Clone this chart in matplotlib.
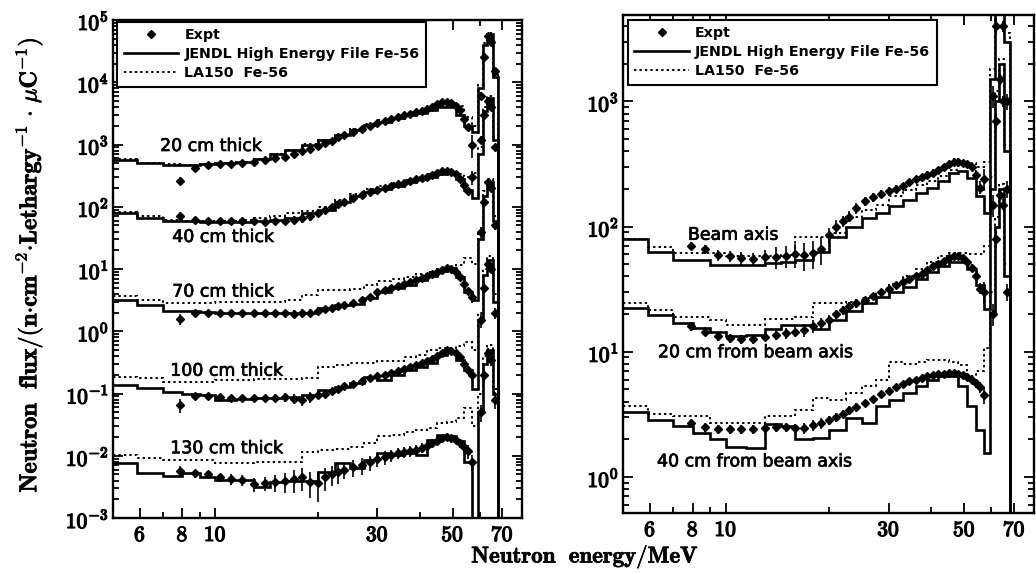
import numpy as np
import matplotlib
matplotlib.use("Agg")
import matplotlib.pyplot as plt
import matplotlib.patheffects as pe
from matplotlib.lines import Line2D
from matplotlib.ticker import LogLocator, FixedLocator, NullFormatter, FixedFormatter, FuncFormatter

plt.rcParams['mathtext.fontset'] = 'cm'
plt.rcParams['font.family'] = ['DejaVu Sans']

# ---------------- data ----------------
# histogram bin edges (MeV) shared by the calculated spectra
E_EDGES = [5, 5.9, 7, 8, 9, 10, 11.5, 13, 14.5, 16, 18, 20, 22.5, 25, 27.5, 30, 33, 36, 39,
           42, 45, 48, 51, 54, 57, 59.5, 61.5, 63, 65.5, 68, 80]

# experimental energies (MeV)
EXP_E = [7.9, 8.7, 9.5, 10.3, 11.1, 12.0, 13.0, 14.0, 15.0, 16.0, 17.0, 18.0, 19.0, 20.0, 21.0,
         22.0, 23.0, 24.0, 25.5, 27, 28.5, 30, 31.5, 33, 34.5, 36, 37.5, 39, 40.5, 42,
         43.5, 45, 46.5, 48, 49.5, 51, 52.5, 54, 55.5, 57, 60.5, 62, 63.5, 65, 66.5]

# ---- left panel: thickness dependence ----
J20 = [564, 499, 468, 468, 480, 499, 530, 578, 703, 813, 1000, 1170, 1400, 1700, 2040,
       2330, 2630, 2960, 3240, 3580, 3980, 4000, 3000, 2000, 1600, 8000, 4.0e4, 6.0e4, 1.2e4, 1e-8]
L20 = [580, 510, 480, 475, 485, 500, 530, 580, 700, 820, 1020, 1200, 1450, 1750, 2100,
       2450, 2800, 3150, 3500, 3900, 4400, 4700, 4200, 2800, 2000, 9000, 4.2e4, 6.2e4, 1.3e4, 1e-8]
X20 = [260, 420, 470, 480, 490, 500, 520, 560, 600, 620, 700, 780, 850, 950, 1050,
       1150, 1300, 1400, 1600, 1800, 2000, 2200, 2400, 2600, 2800, 3000, 3100, 3300, 3500, 3700,
       4000, 4500, 4800, 4900, 4600, 4200, 3600, 2600, 1900, 1000, 6000, 2.5e4, 5.5e4, 4.5e4, 1.5e4]
ERR20 = [15, 8, 5, 5, 5, 5, 6, 6, 8, 10, 10, 10, 12, 10, 8, 6, 6, 5, 5, 5, 4, 4, 4, 4, 4,
         4, 4, 4, 4, 4, 4, 4, 4, 4, 4, 4, 5, 6, 8, 40, 15, 10, 8, 8, 10]

J40 = [80, 66, 58, 58, 57, 57, 57, 58, 62, 66, 79, 89, 120, 150, 175,
       195, 215, 250, 275, 305, 335, 345, 280, 185, 138, 700, 3500, 5500, 1200, 1e-8]
L40 = [82, 70, 62, 60, 60, 60, 62, 66, 72, 80, 85, 100, 130, 160, 190,
       215, 240, 270, 300, 330, 360, 370, 330, 300, 350, 900, 4000, 6000, 1300, 1e-8]
X40 = [72, 62, 60, 60, 58, 58, 58, 57, 58, 60, 62, 65, 70, 78, 88,
       98, 110, 120, 140, 155, 170, 185, 200, 215, 230, 245, 260, 275, 290, 305,
       325, 350, 370, 375, 360, 330, 280, 220, 180, 300, 1200, 3000, 5000, 4000, 900]
ERR40 = [15, 10, 8, 8, 8, 8, 8, 10, 10, 12, 15, 15, 15, 12, 10, 8, 8, 8, 7, 6, 6, 6, 6, 6, 5,
         5, 5, 5, 5, 5, 5, 5, 5, 5, 5, 5, 6, 8, 10, 25, 15, 10, 8, 8, 12]

J70 = [3.18, 2.64, 2.14, 2.14, 2.06, 1.94, 1.94, 2.0, 2.0, 1.94, 2.0, 2.34, 2.6, 2.7, 3.4,
       4.3, 4.9, 5.6, 6.6, 7.8, 9.2, 10.2, 7.5, 4.3, 3.2, 30, 150, 250, 60, 1e-8]
L70 = [3.7, 3.2, 2.8, 2.8, 2.8, 2.9, 2.9, 2.9, 2.95, 3.2, 3.8, 4.6, 4.6, 4.8, 5.5,
       6.5, 7.0, 7.5, 8.2, 9.0, 10.0, 10.5, 11.5, 15, 12, 40, 180, 280, 70, 1e-8]
X70 = [1.6, 2.0, 2.0, 2.0, 1.95, 1.95, 1.95, 1.95, 1.95, 1.95, 1.9, 1.95, 2.0, 2.1, 2.3,
       2.4, 2.5, 2.6, 2.8, 3.2, 3.6, 4.2, 4.6, 5.0, 5.4, 5.8, 6.2, 6.6, 7.1, 7.6,
       8.2, 9.0, 9.8, 10.2, 10.0, 9.0, 7.5, 5.8, 4.5, 3.6, 40, 120, 250, 200, 50]
ERR70 = [20, 10, 8, 8, 8, 8, 8, 10, 10, 12, 15, 15, 12, 12, 10, 10, 10, 8, 8, 8, 8, 7, 7, 7, 6,
         6, 6, 6, 6, 6, 6, 6, 6, 6, 6, 6, 8, 10, 12, 20, 20, 15, 10, 10, 15]

J100 = [0.137, 0.121, 0.107, 0.1, 0.094, 0.079, 0.083, 0.086, 0.086, 0.089, 0.094, 0.114, 0.129, 0.146, 0.186,
        0.166, 0.198, 0.24, 0.27, 0.305, 0.415, 0.47, 0.35, 0.24, 0.12, 1.5, 8, 14, 3, 1e-8]
L100 = [0.186, 0.18, 0.155, 0.155, 0.155, 0.166, 0.166, 0.17, 0.17, 0.17, 0.18, 0.27, 0.29, 0.305, 0.305,
        0.33, 0.33, 0.38, 0.415, 0.5, 0.53, 0.53, 0.59, 0.68, 0.5, 2, 10, 16, 4, 1e-8]
X100 = [0.065, 0.09, 0.092, 0.088, 0.085, 0.085, 0.085, 0.086, 0.085, 0.087, 0.082, 0.08, 0.088, 0.095, 0.1,
        0.11, 0.12, 0.13, 0.14, 0.16, 0.18, 0.19, 0.2, 0.21, 0.23, 0.25, 0.27, 0.29, 0.31, 0.33,
        0.36, 0.4, 0.45, 0.5, 0.48, 0.45, 0.38, 0.3, 0.24, 0.2, 1.5, 5, 12, 10, 2]
ERR100 = [25, 12, 10, 10, 10, 10, 12, 12, 15, 15, 18, 20, 20, 15, 15, 12, 12, 12, 10, 10, 10, 10, 10, 10, 9,
          9, 9, 9, 8, 8, 8, 8, 8, 8, 8, 8, 10, 12, 15, 20, 25, 20, 15, 15, 20]

J130 = [0.0077, 0.0053, 0.0047, 0.0052, 0.0046, 0.0041, 0.0041, 0.0032, 0.0038, 0.0039, 0.0039, 0.0055, 0.0076, 0.0063, 0.0085,
        0.011, 0.0103, 0.011, 0.0103, 0.0179, 0.0215, 0.0205, 0.017, 0.008, 1e-6, 0.05, 0.3, 0.5, 0.1, 1e-8]
L130 = [0.0102, 0.0091, 0.0085, 0.0085, 0.0085, 0.0077, 0.0077, 0.008, 0.008, 0.008, 0.0115, 0.0123, 0.013, 0.014, 0.016,
        0.0205, 0.0215, 0.0245, 0.026, 0.0276, 0.033, 0.035, 0.04, 0.058, 0.03, 0.1, 0.4, 0.6, 0.12, 1e-8]
X130 = [0.0057, 0.0052, 0.005, 0.0045, 0.0042, 0.0041, 0.0035, 0.0036, 0.0038, 0.0039, 0.0042, 0.0045, 0.0038, 0.0036, 0.0045,
        0.005, 0.0055, 0.006, 0.0065, 0.007, 0.0078, 0.0088, 0.0095, 0.0102, 0.011, 0.0115, 0.012, 0.0125, 0.0135, 0.0145,
        0.016, 0.0175, 0.019, 0.02, 0.019, 0.018, 0.016, 0.014, 0.012, 0.008, 0.05, 0.2, 0.45, 0.35, 0.08]
ERR130 = [20, 15, 15, 15, 20, 20, 25, 25, 30, 35, 40, 40, 45, 50, 40, 35, 35, 30, 30, 30, 28, 25, 25, 22, 20,
          20, 20, 18, 18, 18, 16, 16, 15, 15, 15, 15, 18, 20, 25, 30, 30, 25, 20, 20, 30]

# ---- right panel: off-axis dependence ----
JBA = [79.5, 63, 54.5, 54.5, 49.7, 49.7, 49.7, 51.3, 52.5, 54.5, 63, 83, 100, 117, 128,
       145, 164, 185, 204, 230, 268, 280, 244, 174, 128, 1500, 8000, 2e4, 3000, 1e-8]
LBA = [79.5, 69, 61.5, 61.5, 61.5, 58, 58, 58, 59.5, 83, 83, 89, 120, 135, 150,
       175, 195, 215, 230, 255, 285, 323, 323, 300, 330, 1800, 9000, 2.2e4, 3500, 1e-8]
XBA = [70, 66, 59, 58, 56, 55, 57, 57, 58, 60, 59, 61, 66, 85, 100,
       110, 120, 140, 160, 172, 182, 192, 200, 212, 225, 238, 250, 260, 270, 282,
       298, 318, 330, 330, 322, 318, 300, 260, 205, 240, 1100, 4000, 8000, 4000, 1000]
ERRBA = [8, 8, 10, 10, 12, 12, 15, 20, 20, 22, 25, 25, 25, 15, 12, 10, 10, 10, 8, 8, 7, 7, 7, 6, 6,
         6, 6, 6, 6, 6, 6, 6, 6, 6, 6, 6, 7, 8, 12, 20, 20, 15, 10, 10, 15]

JR20 = [22.4, 19.8, 17, 15.5, 14.3, 13.4, 13.7, 15.2, 16.5, 16.5, 15.2, 18, 21, 24.4, 27.6,
        30, 33, 38, 43, 48, 52, 52, 46, 34, 22, 200, 1000, 2000, 400, 1e-8]
LR20 = [24.5, 21.7, 19.1, 19.1, 18, 16.5, 16.5, 18.3, 18.3, 19, 24.5, 24.5, 25, 27, 30,
        35, 40, 46, 52, 58, 62, 62, 60, 60, 70, 250, 1200, 2200, 450, 1e-8]
XR20 = [16, 14.5, 13.3, 12.8, 12.6, 12.6, 13.2, 13.7, 14.0, 14.5, 15, 16, 17, 18, 20,
        21.5, 23, 24.5, 26, 28, 30, 32, 34, 36, 38, 40, 42, 45, 48, 50,
        53, 56, 58, 58, 56, 52, 47, 40, 32, 30, 150, 700, 1500, 1000, 200]
ERRR20 = [8, 8, 8, 8, 8, 8, 8, 10, 10, 10, 12, 12, 10, 10, 8, 8, 8, 8, 6, 6, 6, 6, 5, 5, 5,
          5, 5, 5, 5, 5, 5, 5, 5, 5, 5, 5, 6, 8, 10, 20, 20, 15, 10, 10, 15]

JR40 = [3.28, 2.87, 2.54, 2.24, 2.0, 1.75, 1.7, 2.66, 2.54, 2.0, 2.05, 2.39, 2.95, 2.7, 3.67,
        4.14, 4.67, 5.3, 6.0, 6.37, 6.37, 5.3, 3.67, 2.39, 1.55, 20, 100, 200, 40, 1e-8]
LR40 = [3.7, 3.16, 3.05, 3.05, 2.7, 2.7, 2.7, 3.05, 3.05, 3.4, 4.27, 4.1, 4.67, 5.3, 6.0,
        8.3, 8.0, 8.3, 8.6, 8.6, 8.3, 7.8, 6.4, 7.0, 10.8, 30, 120, 220, 50, 1e-8]
XR40 = [2.7, 2.5, 2.4, 2.4, 2.4, 2.4, 2.45, 2.5, 2.5, 2.45, 2.45, 2.6, 2.7, 2.85, 3.0,
        3.2, 3.4, 3.6, 3.9, 4.2, 4.6, 4.9, 5.2, 5.5, 5.8, 6.0, 6.2, 6.4, 6.5, 6.6,
        6.7, 6.8, 6.8, 6.6, 6.5, 6.3, 6.0, 5.6, 5.2, 4.5, 20, 80, 180, 150, 30]
ERRR40 = [8, 8, 8, 8, 8, 8, 8, 8, 8, 8, 10, 10, 10, 8, 8, 8, 8, 8, 6, 6, 6, 6, 5, 5, 5,
          5, 5, 5, 5, 5, 5, 5, 5, 5, 5, 5, 6, 8, 10, 15, 20, 15, 10, 10, 15]

X_TICKS = [6, 8, 10, 30, 50, 70]
X_MINOR = [7, 9, 20, 40, 60]
Y_EXP_LEFT = [-3, -2, -1, 0, 1, 2, 3, 4, 5]
Y_EXP_RIGHT = [0, 1, 2, 3]
LEGEND_LABELS = ['Expt', 'JENDL High Energy File Fe-56', 'LA150  Fe-56']

LEFT_SERIES = [(J20, L20, X20, ERR20), (J40, L40, X40, ERR40), (J70, L70, X70, ERR70),
               (J100, L100, X100, ERR100), (J130, L130, X130, ERR130)]
RIGHT_SERIES = [(JBA, LBA, XBA, ERRBA), (JR20, LR20, XR20, ERRR20), (JR40, LR40, XR40, ERRR40)]

LEFT_TEXT = [('20 cm thick', 6.88, 946), ('40 cm thick', 7.47, 32.7), ('70 cm thick', 7.47, 4.33),
             ('100 cm thick', 7.37, 0.232), ('130 cm thick', 7.37, 0.0132)]
RIGHT_TEXT = [('Beam axis', 7.75, 86), ('20 cm from beam axis', 6.33, 9.9),
              ('40 cm from beam axis', 6.29, 1.33)]

# ---------------- figure ----------------
W, H = 1036, 574
fig = plt.figure(figsize=(W / 100, H / 100), dpi=100)


def rect(l, r, t, b):
    return [l / W, 1 - b / H, (r - l) / W, (b - t) / H]


ax1 = fig.add_axes(rect(113, 522, 20, 518))
ax2 = fig.add_axes(rect(623, 1034, 15, 513))

DOT = (0, (1.2, 1.6))
HEAVY = [pe.withStroke(linewidth=0.9, foreground='k')]
SEMI = [pe.withStroke(linewidth=0.5, foreground='k')]


def draw(ax, series):
    for jendl, la150, expt, err in series:
        ax.stairs(jendl, E_EDGES, baseline=None, color='k', lw=1.9, zorder=3)
        ax.stairs(la150, E_EDGES, baseline=None, color='k', lw=1.4, ls=DOT, zorder=3)
        e = np.array(expt, dtype=float)
        yerr = e * np.array(err, dtype=float) / 100.0
        ax.errorbar(EXP_E, e, yerr=yerr, fmt='D', ms=3.8, color='k', ecolor='k',
                    elinewidth=1.2, capsize=0, zorder=5)


def style(ax, ylim, yexp):
    ax.set_xscale('log')
    ax.set_yscale('log')
    ax.set_xlim(5, 80)
    ax.set_ylim(*ylim)
    ax.xaxis.set_major_locator(FixedLocator(X_TICKS))
    ax.xaxis.set_major_formatter(FixedFormatter([r'$\mathbf{%d}$' % t for t in X_TICKS]))
    ax.xaxis.set_minor_locator(FixedLocator(X_MINOR))
    ax.xaxis.set_minor_formatter(NullFormatter())
    ax.yaxis.set_major_locator(FixedLocator([10.0 ** k for k in yexp]))
    ax.yaxis.set_major_formatter(FixedFormatter([r'$\mathbf{10^{%d}}$' % k for k in yexp]))
    ax.yaxis.set_minor_locator(LogLocator(base=10, subs=np.arange(2, 10), numticks=20))
    ax.yaxis.set_minor_formatter(NullFormatter())
    ax.tick_params(which='both', direction='in', top=True, right=True, width=1.3)
    ax.tick_params(which='major', length=7, labelsize=15.5)
    ax.tick_params(which='minor', length=4)
    ax.tick_params(axis='x', which='major', pad=5)
    ax.tick_params(axis='y', which='major', pad=3)
    for s in ax.spines.values():
        s.set_linewidth(1.7)
    for lab in ax.get_xticklabels() + ax.get_yticklabels():
        lab.set_path_effects(HEAVY)


draw(ax1, LEFT_SERIES)
draw(ax2, RIGHT_SERIES)
style(ax1, (1e-3, 1e5), Y_EXP_LEFT)
style(ax2, (0.515, 4900), Y_EXP_RIGHT)

for txt, x, y in LEFT_TEXT:
    ax1.text(x, y, txt, fontsize=12.5, ha='left', va='center', path_effects=SEMI)
for txt, x, y in RIGHT_TEXT:
    ax2.text(x, y, txt, fontsize=12.5, ha='left', va='center', path_effects=SEMI)

handles = [Line2D([], [], marker='D', ls='none', color='k', ms=3.8),
           Line2D([], [], color='k', lw=1.9),
           Line2D([], [], color='k', lw=1.4, ls=DOT)]
for ax, anchor in ((ax1, (0.01, 0.996)), (ax2, (0.012, 0.99))):
    leg = ax.legend(handles, LEGEND_LABELS, loc='upper left', bbox_to_anchor=anchor,
                    borderaxespad=0, handlelength=3.8, handletextpad=0.45,
                    labelspacing=0.35, borderpad=0.45, frameon=True, fancybox=False,
                    edgecolor='k', framealpha=1,
                    prop={'size': 10.3, 'weight': 'bold'})
    leg.get_frame().set_linewidth(1.5)
    leg.set_zorder(10)

fig.text(585 / W, 1 - 557 / H, r'$\mathbf{Neutron\ \ energy/MeV}$', fontsize=16.5,
         ha='center', va='center', path_effects=SEMI)
fig.text(29 / W, 1 - 265 / H,
         r'$\mathbf{Neutron\ \ flux/(n{\cdot}cm^{-2}{\cdot}Lethargy^{-1}\ {\cdot}\ }\mu\mathbf{C^{-1})}$',
         fontsize=17.5, rotation=90, ha='center', va='center', path_effects=SEMI)

fig.savefig('out.png', dpi=100)
